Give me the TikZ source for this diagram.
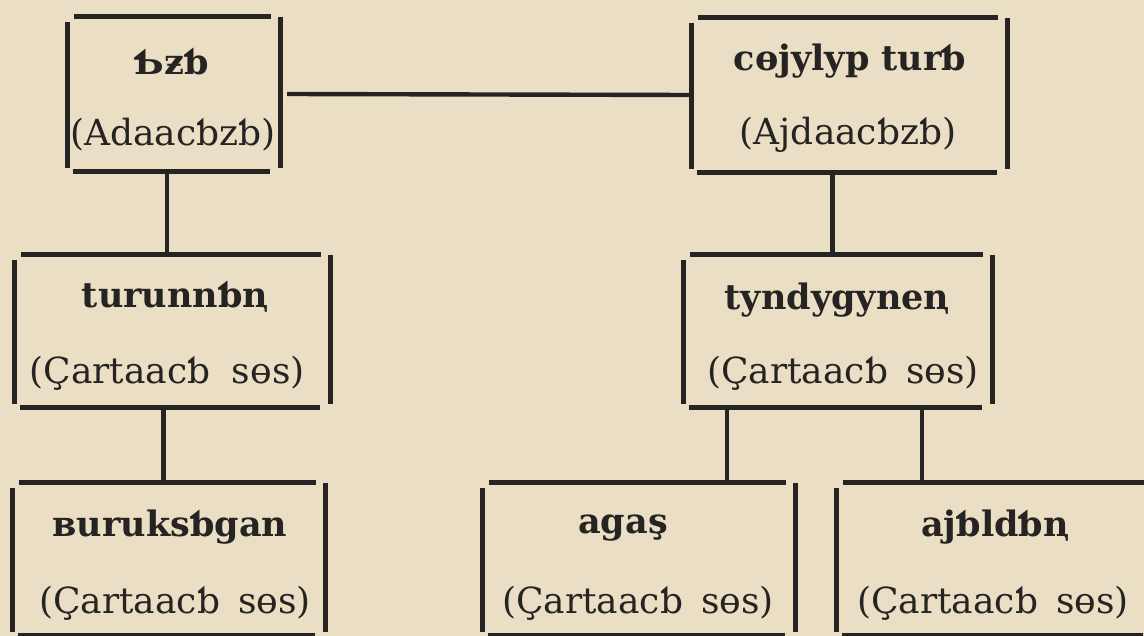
\documentclass[tikz,border=0pt]{standalone}
\usepackage{fontspec}
\setmainfont{DejaVu Serif}
\definecolor{paper}{RGB}{234,222,197}
\definecolor{ink}{RGB}{38,36,34}
\newcommand\nq{ꞑ}
\tikzset{
  frame/.style={draw=none, inner sep=0pt, minimum width=#1},
  side/.style={draw=ink, line width=4.8pt},
  wire/.style={draw=ink, line width=4.4pt},
  ttl/.style={text=ink, font=\fontsize{35}{42}\selectfont\bfseries, inner sep=0pt},
  sub/.style={text=ink, font=\fontsize{36}{43}\selectfont, inner sep=0pt},
}
\newcommand\boxsides[1]{%
  \draw[side] ([xshift=6pt]#1.north west) -- ([xshift=-9pt]#1.north east);
  \draw[side] ([xshift=5pt]#1.south west) -- ([xshift=-10pt]#1.south east);
  \draw[side] ([yshift=-5pt]#1.north west) -- ([yshift=3pt]#1.south west);
  \draw[side] (#1.north east) -- ([yshift=3pt]#1.south east);
}
\begin{document}
\begin{tikzpicture}[x=1pt,y=-1pt]
\fill[paper] (0,0) rectangle (1144,636);
\useasboundingbox (0,0) rectangle (1144,636);

% box frames (invisible nodes; sides drawn separately)
\node[frame=212pt, minimum height=154pt] (A) at (174,94) {};
\node[frame=315pt, minimum height=154pt] (B) at (849.5,95) {};
\node[frame=315pt, minimum height=152pt] (C) at (172.5,331) {};
\node[frame=308pt, minimum height=152pt] (E) at (838,331) {};
\node[frame=312pt, minimum height=152pt] (D) at (169,559) {};
\node[frame=312pt, minimum height=152pt] (F) at (639,559) {};
\node[frame=316pt, minimum height=152pt] (G) at (995,559) {};

\boxsides{A}\boxsides{B}\boxsides{C}\boxsides{E}
\boxsides{D}\boxsides{F}\boxsides{G}

% texts
\node[ttl] (At) at (172,61) {Ƅƶƅ};
\node[sub] (As) at (173,135) {(Adaacƅzƅ)};
\node[ttl] (Bt) at (850,61) {cɵjylyp turƅ};
\node[sub] (Bs) at (848,135) {(Ajdaacƅzƅ)};
\node[ttl] (Ct) at (175,297) {turunnƅ\nq};
\node[sub] (Cs) at (167,373) {(Çartaacƅ\hspace{0.6em}sɵs)};
\node[ttl] (Et) at (837,300) {tyndygyne\nq};
\node[sub] (Es) at (843,373) {(Çartaacƅ\hspace{0.5em}sɵs)};
\node[ttl] (Dt) at (170,527) {ʙuruksƅgan};
\node[sub] (Ds) at (175,603) {(Çartaacƅ\hspace{0.5em}sɵs)};
\node[ttl] (Ft) at (623,528) {agaş};
\node[sub] (Fs) at (638,603) {(Çartaacƅ\hspace{0.5em}sɵs)};
\node[ttl] (Gt) at (995,527) {ajƅldƅ\nq};
\node[sub] (Gs) at (993,603) {(Çartaacƅ\hspace{0.5em}sɵs)};

% connectors
\draw[wire] ([xshift=7pt]A.east) -- ([xshift=-3pt]B.west);
\draw[wire] ([xshift=-7pt,yshift=-2pt]A.south) -- ([xshift=-7pt,yshift=-2pt]A.south |- C.north);
\draw[wire] ([xshift=-17pt,yshift=-3pt]B.south) -- ([xshift=-17pt]B.south |- E.north);
\draw[wire] ([xshift=-9pt]C.south) -- ([xshift=-9pt]C.south |- D.north);
\draw[wire] ([xshift=-111pt,yshift=-3pt]E.south) -- ([xshift=-111pt]E.south |- F.north);
\draw[wire] ([xshift=84pt,yshift=-3pt]E.south) -- ([xshift=84pt]E.south |- G.north);
\end{tikzpicture}
\end{document}
